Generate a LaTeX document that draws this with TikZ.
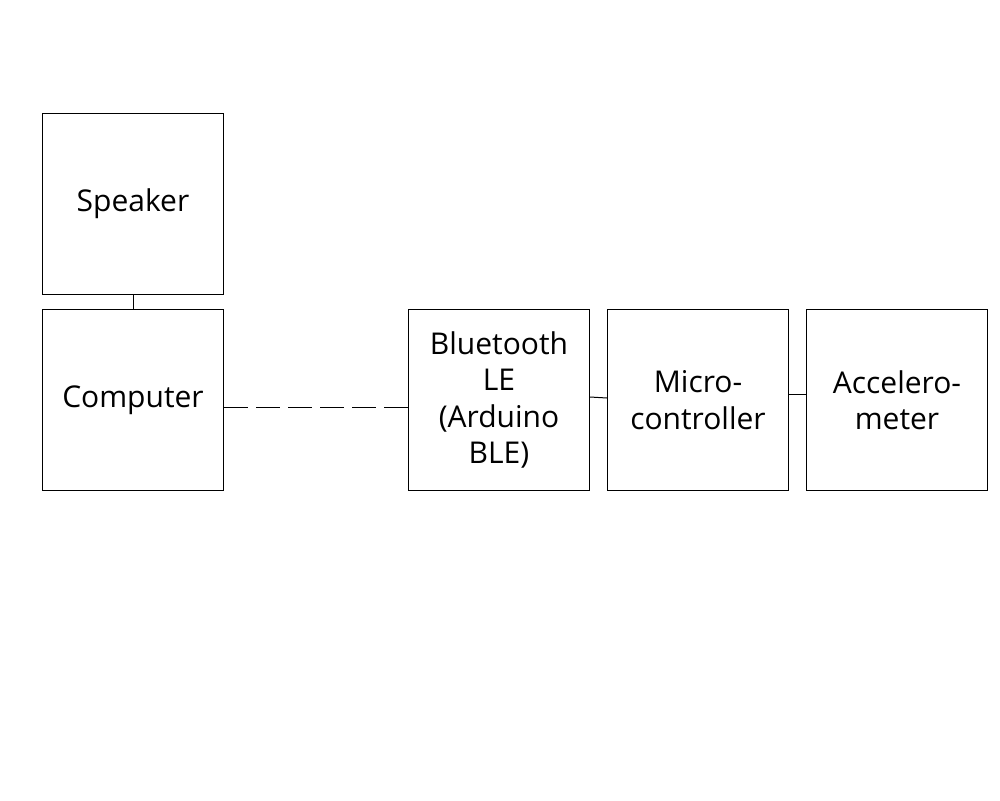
\documentclass[tikz,border=0pt]{standalone}
\usepackage{fontspec}
\setmainfont{Open Sans}
\usetikzlibrary{positioning}

\tikzset{
  block/.style = {draw, line width=1pt, minimum size=181pt, inner sep=0pt,
                  align=center, font=\fontsize{30}{36.5}\selectfont},
  link/.style = {line width=1pt},
}

\begin{document}
\begin{tikzpicture}[x=1pt, y=-1pt]
      \useasboundingbox (0,0) rectangle (1000,800);

      \node[block] (comp) at (133,400) {Computer};
      \node[block, above=14pt of comp] (spk) {Speaker};
      \node[block, right=184pt of comp] (ble) {Bluetooth\\LE\\(Arduino\\BLE)};
      \node[block, right=17pt of ble] (mcu) {Micro-\\controller};
      \node[block, right=17pt of mcu] (acc) {Accelero-\\meter};

      \draw[link] (spk) -- (comp);
      \draw[link, dash pattern=on 24pt off 8pt] ([yshift=-7pt]comp.east) -- ([yshift=-7pt]ble.west);
      \draw[link] ([yshift=3pt]ble.east) -- ([yshift=2pt]mcu.west);
      \draw[link] ([yshift=6pt]mcu.east) -- ([yshift=6pt]acc.west);
\end{tikzpicture}
\end{document}
